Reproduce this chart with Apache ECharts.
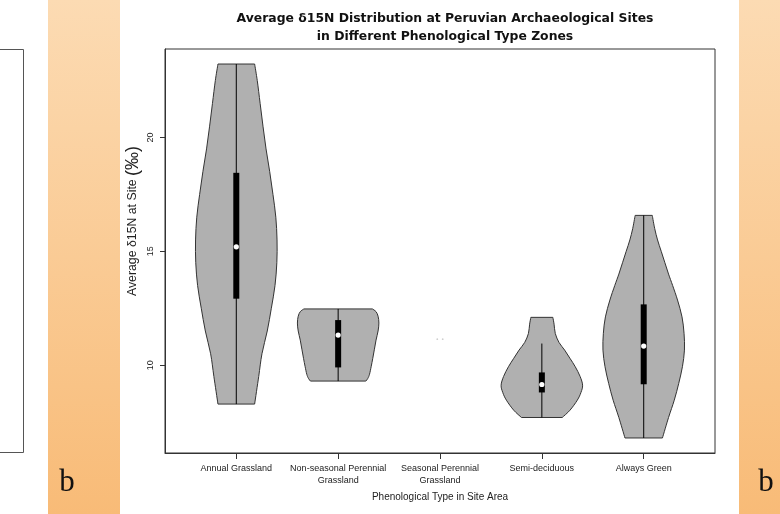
<!DOCTYPE html>
<html>
<head>
<meta charset="utf-8">
<script src="https://cdn.jsdelivr.net/npm/echarts@6/dist/echarts.min.js"></script>
<style>html,body{margin:0;padding:0;background:#fff}#main{width:780px;height:514px}</style>
</head>
<body>
<div id="main"></div>
<script>
// ---- data ----
const categories = ['Annual Grassland', 'Non-seasonal Perennial\nGrassland', 'Seasonal Perennial\nGrassland', 'Semi-deciduous', 'Always Green'];
const positions = [1, 2, 3, 4, 5];
const yTicks = [10, 15, 20];

// violin profiles: d15N levels (bottom to top) and relative density
const annualLevels = [8.29, 9.5, 10.5, 11.5, 12.5, 13.5, 14.5, 15.5, 16.5, 17.5, 18.5, 19.5, 20.5, 21.5, 22.5, 23.23];
const annualDensity = [0.45, 0.55, 0.63, 0.76, 0.86, 0.95, 0.995, 1.0, 0.97, 0.90, 0.82, 0.73, 0.655, 0.585, 0.515, 0.45];
const nonSeasonalLevels = [9.3, 9.42, 9.6, 9.93, 10.3, 10.7, 11.1, 11.5, 11.85, 12.15, 12.35, 12.47];
const nonSeasonalDensity = [0.68, 0.73, 0.77, 0.81, 0.85, 0.89, 0.93, 0.98, 1.0, 0.98, 0.93, 0.84];
const seasonalLevels = [11.14];
const seasonalDensity = [1.0];
const semiLevels = [7.7, 8.02, 8.46, 8.8, 9.12, 9.5, 9.93, 10.3, 10.66, 11.0, 11.39, 11.8, 12.1];
const semiDensity = [0.50, 0.69, 0.87, 0.96, 1.0, 0.94, 0.82, 0.69, 0.56, 0.42, 0.33, 0.30, 0.27];
const greenLevels = [6.8, 7.7, 8.46, 9.2, 9.93, 10.66, 11.4, 12.12, 12.86, 13.5, 14.0, 14.5, 15.0, 15.5, 16.0, 16.58];
const greenDensity = [0.46, 0.61, 0.75, 0.86, 0.95, 1.0, 0.99, 0.94, 0.83, 0.71, 0.61, 0.52, 0.43, 0.34, 0.27, 0.21];

// box statistics
const boxMin = [8.29, 9.3, 11.14, 7.7, 6.8];
const boxQ1 = [12.92, 9.9, 11.14, 8.8, 9.16];
const boxMedian = [15.2, 11.32, 11.14, 9.15, 10.84];
const boxQ3 = [18.45, 11.98, 11.14, 9.68, 12.67];
const boxMax = [23.23, 12.47, 11.14, 10.95, 16.58];

const profiles = [
  [annualLevels, annualDensity],
  [nonSeasonalLevels, nonSeasonalDensity],
  [seasonalLevels, seasonalDensity],
  [semiLevels, semiDensity],
  [greenLevels, greenDensity]
];

// ---- rendering ----
const HALF = 0.4; // max half-width in category units

function splinePath(pts) {
  let d = '';
  for (let i = 0; i < pts.length - 1; i++) {
    const p0 = pts[Math.max(i - 1, 0)], p1 = pts[i], p2 = pts[i + 1], p3 = pts[Math.min(i + 2, pts.length - 1)];
    const c1 = [p1[0] + (p2[0] - p0[0]) / 6, p1[1] + (p2[1] - p0[1]) / 6];
    const c2 = [p2[0] - (p3[0] - p1[0]) / 6, p2[1] - (p3[1] - p1[1]) / 6];
    d += ' C' + c1[0] + ',' + c1[1] + ' ' + c2[0] + ',' + c2[1] + ' ' + p2[0] + ',' + p2[1];
  }
  return d;
}

function renderItem(params, api) {
  const i = params.dataIndex;
  const pos = api.value(0);
  const levels = profiles[i][0], dens = profiles[i][1];
  const children = [];
  if (levels.length > 1) {
    const right = levels.map((v, k) => api.coord([pos + dens[k] * HALF, v]));
    const left = levels.map((v, k) => api.coord([pos - dens[k] * HALF, v])).reverse();
    let d = 'M' + right[0][0] + ',' + right[0][1] + splinePath(right);
    d += ' L' + left[0][0] + ',' + left[0][1] + splinePath(left) + ' Z';
    children.push({
      type: 'path',
      shape: { pathData: d },
      style: { fill: '#b0b0b0', stroke: '#333', lineWidth: 1 }
    });
    const top = api.coord([pos, boxMax[i]]), bot = api.coord([pos, boxMin[i]]);
    children.push({ type: 'line', shape: { x1: top[0], y1: top[1], x2: bot[0], y2: bot[1] }, style: { stroke: '#000', lineWidth: 1 } });
    const q3 = api.coord([pos, boxQ3[i]]), q1 = api.coord([pos, boxQ1[i]]);
    children.push({ type: 'rect', shape: { x: q3[0] - 3, y: q3[1], width: 6, height: q1[1] - q3[1] }, style: { fill: '#000' } });
    const m = api.coord([pos, boxMedian[i]]);
    children.push({ type: 'circle', shape: { cx: m[0], cy: m[1], r: 2.6 }, style: { fill: '#fff' } });
  } else {
    const c = api.coord([pos, levels[0]]);
    children.push({ type: 'circle', shape: { cx: c[0] - 2.7, cy: c[1], r: 0.9 }, style: { fill: '#cfcfcf' } });
    children.push({ type: 'circle', shape: { cx: c[0] + 2.7, cy: c[1], r: 0.9 }, style: { fill: '#cfcfcf' } });
  }
  return { type: 'group', children: children };
}

const chart = echarts.init(document.getElementById('main'), null, { renderer: 'canvas' });
const sans = "'Liberation Sans', Arial, sans-serif";
const orange = () => new echarts.graphic.LinearGradient(0, 0, 0, 1, [{ offset: 0, color: '#fcdbb3' }, { offset: 1, color: '#f8bb77' }]);
chart.setOption({
  animation: false,
  backgroundColor: '#fff',
  title: {
    text: 'Average δ15N Distribution at Peruvian Archaeological Sites\nin Different Phenological Type Zones',
    left: 440, top: 5, textAlign: 'center',
    textStyle: { fontFamily: "'DejaVu Sans', sans-serif", fontWeight: 'bold', fontSize: 12.4, lineHeight: 18, color: '#111' }
  },
  grid: { left: 165, right: 65, top: 49, bottom: 61, show: true, borderColor: '#333', borderWidth: 1, backgroundColor: 'transparent' },
  xAxis: {
    type: 'value', min: 0.3, max: 5.7,
    splitLine: { show: false },
    axisLine: { show: true, lineStyle: { color: '#333' } },
    axisTick: { show: true, length: 6, lineStyle: { color: '#333' }, customValues: positions },
    axisLabel: {
      customValues: positions, margin: 9, fontFamily: sans, fontSize: 9, color: '#222', lineHeight: 12.5,
      formatter: v => categories[Math.round(v) - 1]
    },
    name: 'Phenological Type in Site Area', nameLocation: 'middle', nameGap: 38,
    nameTextStyle: { fontFamily: sans, fontSize: 10, color: '#222' }
  },
  yAxis: {
    type: 'value', min: 6.14, max: 23.89,
    splitLine: { show: false },
    axisLine: { show: true, lineStyle: { color: '#333' } },
    axisTick: { show: true, length: 5, lineStyle: { color: '#333' }, customValues: yTicks },
    axisLabel: { customValues: yTicks, rotate: 90, margin: 10, fontFamily: sans, fontSize: 9, color: '#222' }
  },
  graphic: [
    { type: 'polyline', shape: { points: [[0, 49.5], [23.5, 49.5], [23.5, 452.5], [0, 452.5]] }, style: { stroke: '#555', lineWidth: 1, fill: null } },
    { type: 'rect', shape: { x: 48, y: 0, width: 72, height: 514 }, style: { fill: orange() } },
    { type: 'rect', shape: { x: 739, y: 0, width: 41, height: 514 }, style: { fill: orange() } },
    { type: 'text', x: 67, y: 483, style: { text: 'b', fontFamily: "'Liberation Serif', serif", fontSize: 31, fill: '#111', align: 'center', verticalAlign: 'middle' } },
    { type: 'text', x: 766, y: 483, style: { text: 'b', fontFamily: "'Liberation Serif', serif", fontSize: 31, fill: '#111', align: 'center', verticalAlign: 'middle' } },
    { type: 'text', x: 133, y: 221, rotation: Math.PI / 2,
      style: { text: 'Average δ15N at Site {big|(‰)}', fontFamily: sans, fontSize: 12.3, fill: '#222', align: 'center', verticalAlign: 'middle',
        rich: { big: { fontFamily: sans, fontSize: 18, fill: '#222' } } } }
  ],
  series: [{
    type: 'custom',
    renderItem: renderItem,
    data: positions.map((p, i) => [p, boxMedian[i]]),
    encode: { x: 0, y: 1 },
    clip: false
  }]
});
</script>
</body>
</html>
